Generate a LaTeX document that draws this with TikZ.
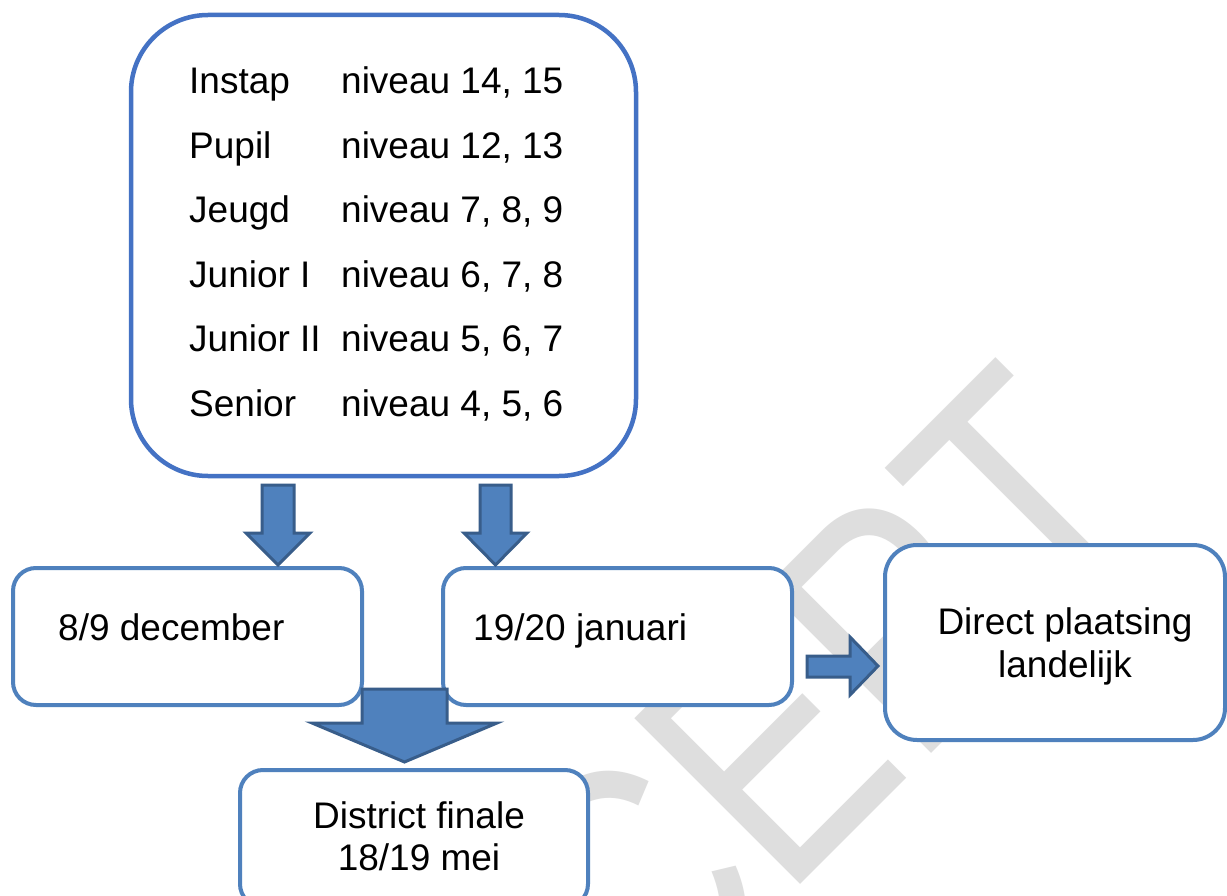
\documentclass[tikz,border=0pt]{standalone}
\usepackage{fontspec}
\setmainfont{Liberation Sans}
\definecolor{topblue}{RGB}{68,114,196}
\definecolor{boxblue}{RGB}{79,129,189}
\definecolor{arrowedge}{RGB}{56,93,138}
\definecolor{wmgray}{RGB}{222,222,222}
\begin{document}
\begin{tikzpicture}[x=1pt,y=-1pt,
  box/.style={draw=boxblue, line width=4pt, fill=white, rounded corners=#1, inner sep=0pt, outer sep=0pt},
  topbox/.style={draw=topblue, line width=4.5pt, fill=white, rounded corners=77pt, inner sep=0pt, outer sep=0pt},
  lbl/.style={inner sep=0pt, font=\fontsize{37}{44}\selectfont, text=black},
  barrow/.style={fill=boxblue, draw=arrowedge, line width=3pt, line join=miter},
  wmark/.style={inner sep=0pt, text=wmgray, font=\fontsize{277}{277}\selectfont}]
\useasboundingbox (0,0) rectangle (1227,896);
\fill[white] (0,0) rectangle (1227,896);
% watermark
\node[wmark, anchor=base east, rotate=45] (wm) at (1166,519) {\scalebox{1}[1.23]{CONCEPT}};
% boxes
\node[topbox, minimum width=505pt, minimum height=461pt] (levels) at (383.5,245.5) {};
\node[box=23pt, minimum width=349pt, minimum height=137pt] (dec) at (187.5,636.5) {};
\node[box=23pt, minimum width=349pt, minimum height=137pt] (jan) at (617.5,636.5) {};
\node[box=32pt, minimum width=340pt, minimum height=195pt] (direct) at (1055,642.5) {};
\node[box=23pt, minimum width=348pt, minimum height=137pt] (final) at (414,838.5) {};
% texts of the top box
\foreach \n/\a [count=\i from 0] in {Instap/{niveau 14, 15}, Pupil/{niveau 12, 13}, Jeugd/{niveau 7, 8, 9}, Junior I/{niveau 6, 7, 8}, Junior II/{niveau 5, 6, 7}, Senior/{niveau 4, 5, 6}}{
  \node[lbl, anchor=base west] (cat\i) at (189,94+64.5*\i) {\n};
  \node[lbl, anchor=base west] (niv\i) at (341,94+64.5*\i) {\a};
}
\node[lbl, anchor=base west] (dectxt) at (58,640) {8/9 december};
\node[lbl, anchor=base west] (jantxt) at (473,640) {19/20 januari};
\node[lbl, anchor=base] (dirtxta) at (1065,634) {Direct plaatsing};
\node[lbl, anchor=base] (dirtxtb) at (1065,677) {landelijk};
\node[lbl, anchor=base] (fintxta) at (419,828) {District finale};
\node[lbl, anchor=base] (fintxtb) at (419,870) {18/19 mei};
% block arrows
\draw[barrow] (262,485)--(294,485)--(294,533)--(310,533)--(278,565)--(246,533)--(262,533)--cycle;
\draw[barrow] (480,485)--(511,485)--(511,533)--(527,533)--(495.5,565)--(464,533)--(480,533)--cycle;
\draw[barrow] (362,689)--(447,689)--(447,723)--(497,723)--(404.5,762)--(312,723)--(362,723)--cycle;
\draw[barrow] (807,656)--(850,656)--(850,637)--(878,666)--(850,695)--(850,677)--(807,677)--cycle;
\end{tikzpicture}
\end{document}
